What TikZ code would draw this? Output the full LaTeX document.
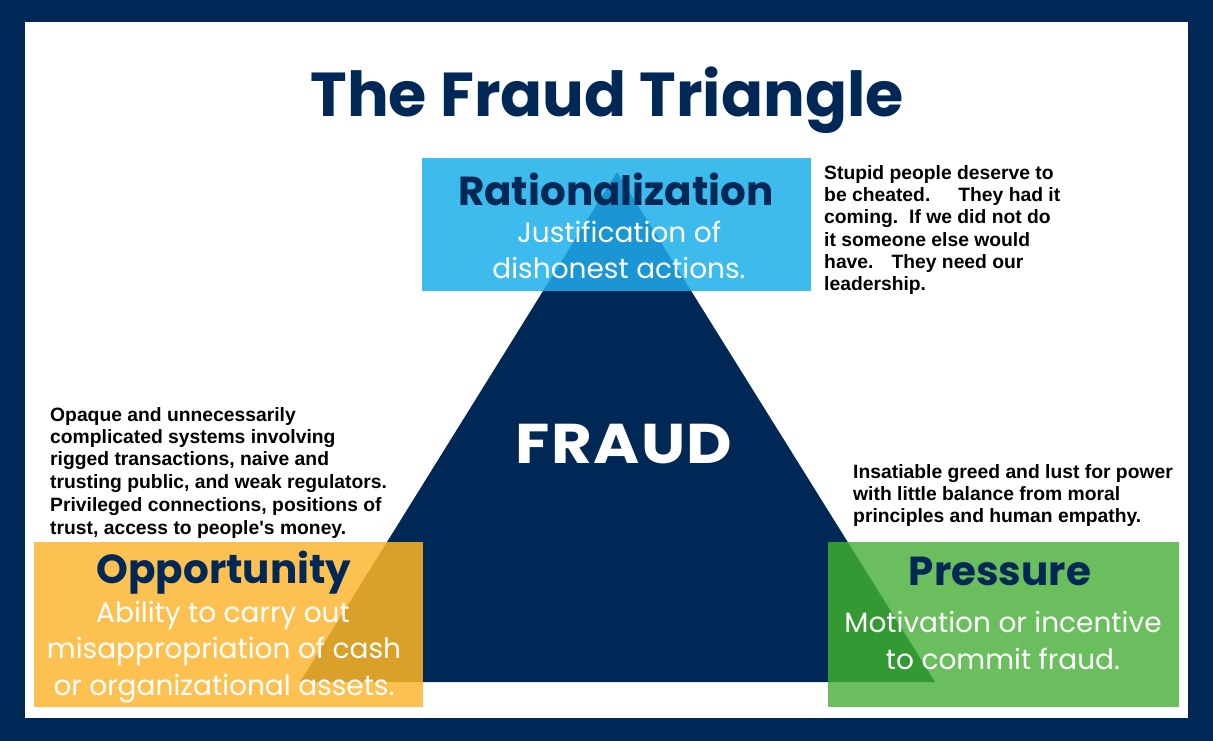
\documentclass[tikz,border=0pt]{standalone}
\usepackage{fontspec}
\setmainfont{Liberation Sans}
\newfontfamily\pop{Poppins}
\definecolor{navy}{RGB}{0,40,86}
\definecolor{ratblue}{RGB}{61,187,237}
\definecolor{ratover}{RGB}{27,150,212}
\definecolor{oppyellow}{RGB}{253,193,82}
\definecolor{oppover}{RGB}{218,161,42}
\definecolor{pregreen}{RGB}{106,190,94}
\definecolor{preover}{RGB}{51,153,51}
\tikzset{
  title/.style={anchor=base, inner sep=0, text=navy, font=\pop\bfseries\fontsize{62}{70}\selectfont},
  heading/.style={anchor=base, inner sep=0, text=navy, font=\pop\bfseries\fontsize{40.5}{48}\selectfont},
  sub/.style={anchor=base, inner sep=0, text=white, font=\pop\fontsize{28}{34}\selectfont},
  note/.style={anchor=north west, inner sep=0, align=left, text=black, font=\bfseries\fontsize{19.3}{22.3}\selectfont},
}
\begin{document}
\begin{tikzpicture}[x=1pt,y=-1pt]
\useasboundingbox (0,0) rectangle (1213,741);
\fill[navy] (0,0) rectangle (1213,741);
\fill[white] (25,22) rectangle (1188,718);
% triangle
\coordinate (apex) at (617,172);
\coordinate (bl) at (300,682);
\coordinate (br) at (935,682);
\fill[navy] (bl) -- (br) -- (apex) -- cycle;
% boxes
\coordinate (ratA) at (422,158); \coordinate (ratB) at (811,291);
\coordinate (oppA) at (34,542);  \coordinate (oppB) at (423,707);
\coordinate (preA) at (828,542); \coordinate (preB) at (1179,707);
\fill[ratblue] (ratA) rectangle (ratB);
\fill[oppyellow] (oppA) rectangle (oppB);
\fill[pregreen] (preA) rectangle (preB);
\begin{scope}
  \clip (bl) -- (br) -- (apex) -- cycle;
  \fill[ratover] (ratA) rectangle (ratB);
  \fill[oppover] (oppA) rectangle (oppB);
  \fill[preover] (preA) rectangle (preB);
\end{scope}
% texts
\node[title] (ttl) at (607,117) {The Fraud Triangle};
\node[heading] (rat) at (616,205) {Rationalization};
\node[sub] (rat1) at (619,242) {Justification of};
\node[sub] (rat2) at (619,278) {dishonest actions.};
\node[anchor=base, inner sep=0, text=white, font=\pop\bfseries\fontsize{56}{60}\selectfont] (fraud) at (624,463) {\scalebox{1.12}[1]{\addfontfeatures{LetterSpace=2}FRAUD}};
\node[heading] (opp) at (224,583) {Opportunity};
\node[sub] (opp1) at (223,622) {Ability to carry out};
\node[sub] (opp2) at (224,658) {misappropriation of cash};
\node[sub] (opp3) at (224,695) {or organizational assets.};
\node[heading] (pre) at (1000,585) {Pressure};
\node[sub] (pre1) at (1003,632) {Motivation or incentive};
\node[sub] (pre2) at (1003,669) {to commit fraud.};
% notes
\node[note] (ratnote) at (824,165) {Stupid people deserve to\\be cheated.\hspace{28pt}They had it\\coming.\hspace{11pt}If we did not do\\it someone else would\\have.\hspace{18pt}They need our\\leadership.};
\node[note] (oppnote) at (50,407) {Opaque and unnecessarily\\complicated systems involving\\rigged transactions, naive and\\trusting public, and weak regulators.\\[1.5pt]Privileged connections, positions of\\trust, access to people\textquotesingle s money.};
\node[note] (prenote) at (853,464) {Insatiable greed and lust for power\\with little balance from moral\\principles and human empathy.};
\end{tikzpicture}
\end{document}
